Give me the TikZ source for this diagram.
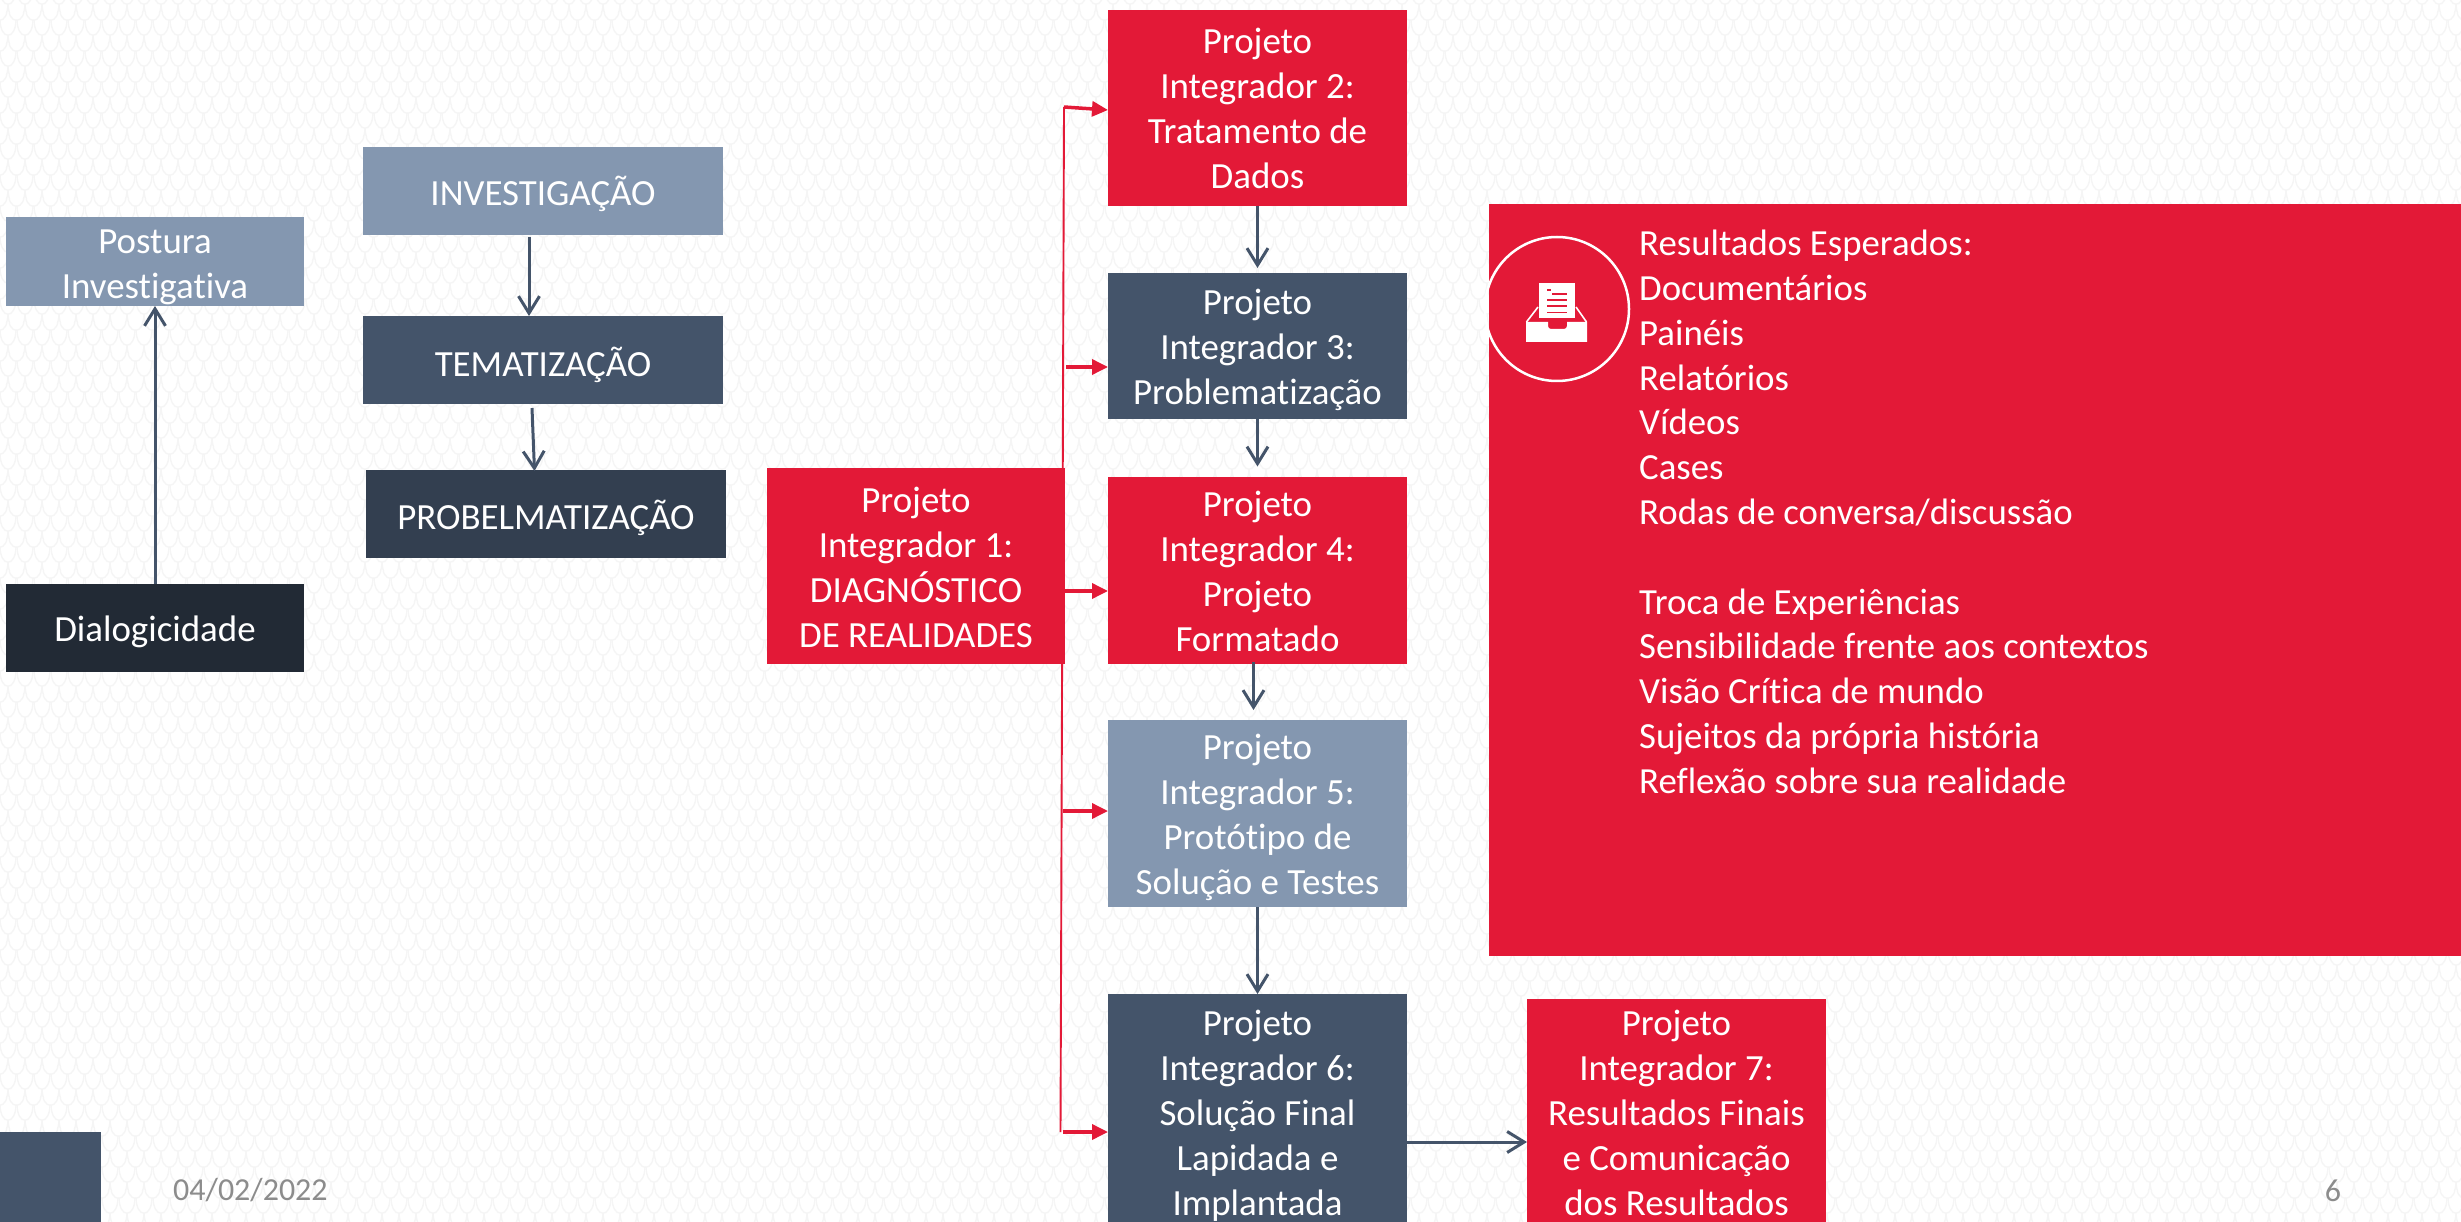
\documentclass[tikz,border=0pt]{standalone}
\usepackage{fontspec}
\setmainfont[Ligatures=NoCommon]{Carlito}
\usetikzlibrary{arrows.meta,patterns}
\definecolor{redbox}{HTML}{E31937}
\definecolor{navy}{HTML}{44546A}
\definecolor{lightblue}{HTML}{8497B0}
\definecolor{darkblue}{HTML}{333F50}
\definecolor{darkest}{HTML}{222A35}
\definecolor{greytext}{HTML}{8C8C8C}
\definecolor{patline}{HTML}{F5F5F5}
\newcommand{\scbowl}[2]{%
  \pgfpathmoveto{\pgfpoint{#1pt}{#2pt}}%
  \pgfpathcurveto{\pgfpoint{#1pt+1pt}{#2pt-20pt}}{\pgfpoint{#1pt+15.5pt}{#2pt-20pt}}{\pgfpoint{#1pt+16.5pt}{#2pt}}%
}
\newcommand{\dnt}[1]{\rule{0pt}{#1pt}}
\pgfdeclarepatternformonly{scalebg}{\pgfpointorigin}{\pgfpoint{16.5pt}{31pt}}{\pgfpoint{16.5pt}{31pt}}{%
  \pgfsetlinewidth{1.4pt}%
  \scbowl{0}{24}\scbowl{-8.25}{8.5}\scbowl{8.25}{8.5}\scbowl{-8.25}{39.5}\scbowl{8.25}{39.5}%
  \pgfusepath{stroke}%
}
\tikzset{
  boxn/.style={inner sep=0pt,outer sep=0pt,text=white,align=center,font=\fontsize{36.9}{45}\selectfont},
  redb/.style={boxn,fill=redbox},
  navyb/.style={boxn,fill=navy},
  lightb/.style={boxn,fill=lightblue},
  darkb/.style={boxn,fill=darkblue},
  darkestb/.style={boxn,fill=darkest},
  sz/.style 2 args={minimum width=#1pt,minimum height=#2pt},
  navyarrow/.style={draw=navy,line width=3pt,-{Straight Barb[length=17pt,width=21pt,line width=3pt]}},
  redarrow/.style={draw=redbox,line width=3.5pt,-{Triangle[length=16pt,width=15pt]}},
  redline/.style={draw=redbox,line width=1.9pt},
  foot/.style={inner sep=0pt,text=greytext,font=\fontsize{32}{38}\selectfont}
}
\begin{document}
\begin{tikzpicture}[x=1pt,y=-1pt]
\useasboundingbox (0,0) rectangle (2461,1222);
\fill[white] (0,0) rectangle (2461,1222);
\fill[pattern=scalebg,pattern color=patline] (0,0) rectangle (2461,1222);

% red trunk
\coordinate (trunktop) at (1064,107);
\coordinate (trunkbot) at (1060.5,1132);
\draw[redline] (trunktop) -- (trunkbot);

% left column
\node[lightb,sz={298}{89}] (postura) at (155,261.5) {\dnt{35}Postura\\Investigativa};
\node[darkestb,sz={298}{88}] (dialog) at (155,628) {\dnt{34}Dialogicidade};
\node[lightb,sz={360}{88}] (invest) at (543,191) {\dnt{35}INVESTIGAÇÃO};
\node[navyb,sz={360}{88}] (temat) at (543,360) {\dnt{39}TEMATIZAÇÃO};
\node[darkb,sz={360}{88}] (probl) at (546,514) {\dnt{37}PROBELMATIZAÇÃO};

% projects
\node[redb,sz={298}{196}] (pione) at (916,566) {\dnt{28}Projeto\\Integrador 1:\\DIAGNÓSTICO\\DE REALIDADES};
\node[redb,sz={299}{196}] (pitwo) at (1257.5,108) {Projeto\\Integrador 2:\\Tratamento de\\Dados};
\node[navyb,sz={299}{146}] (pithree) at (1257.5,346) {\dnt{33}Projeto\\Integrador 3:\\Problematização};
\node[redb,sz={299}{187}] (pifour) at (1257.5,570) {\dnt{28}Projeto\\Integrador 4:\\Projeto\\Formatado};
\node[lightb,sz={299}{187}] (pifive) at (1257.5,813.5) {\dnt{33}Projeto\\Integrador 5:\\Protótipo de\\Solução e Testes};
\node[navyb,sz={299}{237}] (pisix) at (1257.5,1112.5) {\dnt{31}Projeto\\Integrador 6:\\Solução Final\\Lapidada e\\Implantada};
\node[redb,sz={299}{227}] (piseven) at (1676.5,1112.5) {Projeto\\Integrador 7:\\Resultados Finais\\e Comunicação\\dos Resultados};

% results panel
\node[fill=redbox,inner sep=0pt,outer sep=0pt,sz={972}{752}] (panel) at (1975,580) {};
\node[anchor=north west,inner sep=0pt,text=white,align=left,font=\fontsize{36.8}{44.8}\selectfont] (results) at (1639,230)
 {Resultados Esperados:\\Documentários\\Painéis\\Relatórios\\Vídeos\\Cases\\Rodas de conversa/discussão\\\mbox{}\\Troca de Experiências\\Sensibilidade frente aos contextos\\Visão Crítica de mundo\\Sujeitos da própria história\\Reflexão sobre sua realidade};

% icon
\draw[white,line width=2.5pt] (1557,309) circle (72);
\fill[white] (1539,283) rectangle (1575,318);
\draw[redbox,line width=1.6pt] (1547,290) -- (1551,290) (1552,294) -- (1567,294) (1547,300) -- (1567,300) (1547,306) -- (1567,306) (1547,312.5) -- (1567,312.5);
\fill[white] (1526,322) -- (1548,322) -- (1548,326) arc[start angle=180,end angle=90,radius=3] -- (1564,329) arc[start angle=90,end angle=0,radius=3] -- (1567,322) -- (1587,322) -- (1587,342) -- (1526,342) -- cycle;
\draw[white,line width=1.6pt] (1526.5,322) -- (1538,307) (1586.5,322) -- (1576,307);

% footer
\fill[navy] (0,1132) rectangle (101,1222);
\node[foot,anchor=base west] (date) at (173,1200) {04/02/2022};
\node[foot,anchor=base] (pagenum) at (2333,1201) {6};

% navy arrows
\draw[navyarrow] (dialog.north) -- (postura.south);
\draw[navyarrow] ([xshift=-14pt,yshift=-2pt]invest.south) -- ([xshift=-14pt]temat.north);
\draw[navyarrow] ([xshift=-11pt,yshift=-4pt]temat.south) -- ([xshift=-11.5pt,yshift=-1pt]probl.north);
\draw[navyarrow,shorten >=5pt] (pitwo.south) -- (pithree.north);
\draw[navyarrow,shorten >=10pt] (pithree.south) -- (pifour.north);
\draw[navyarrow,shorten >=10pt] ([xshift=-4pt,yshift=2pt]pifour.south) -- ([xshift=-4pt]pifive.north);
\draw[navyarrow] (pifive.south) -- (pisix.north);
\draw[navyarrow] (pisix.east |- 0,1142) -- (piseven.west |- 0,1142);

% red arrows
\draw[redarrow] (trunktop) -- ([yshift=-2pt]pitwo.west);
\draw[redarrow] ([xshift=2pt,yshift=-21pt]trunktop |- pithree.west) -- ([yshift=-21pt]pithree.west);
\draw[redarrow] ([yshift=-21pt]pione.east |- pifour.west) -- ([yshift=-21pt]pifour.west);
\draw[redarrow] ([xshift=-1pt,yshift=2.5pt]trunktop |- pifive.west) -- ([yshift=2.5pt]pifive.west);
\draw[redarrow] ([xshift=2pt]trunkbot) -- (pisix.west |- trunkbot);
\end{tikzpicture}
\end{document}
